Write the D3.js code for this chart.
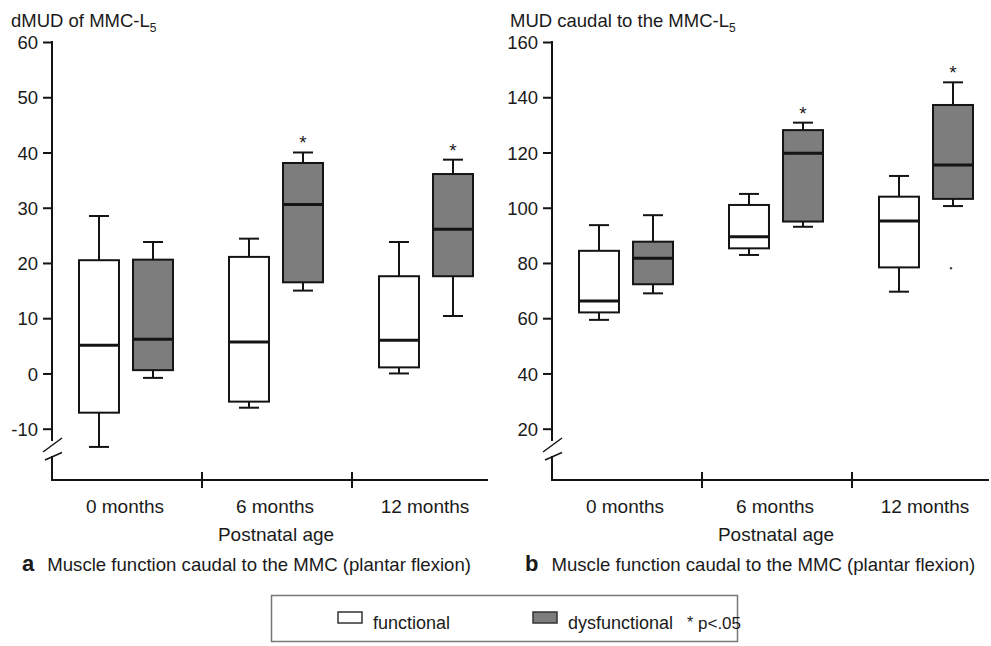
<!DOCTYPE html>
<html>
<head>
<meta charset="utf-8">
<script src="https://cdn.jsdelivr.net/npm/d3@7"></script>
<style>
  body { margin: 0; background: #fff; }
  svg { display: block; }
  text { font-family: "Liberation Sans", Arial, sans-serif; fill: #1a1a1a; }
</style>
</head>
<body>
<div id="chart"></div>
<script>
/***********************************************************
 * Data - each box: [min, q1, median, q3, max]
 * *********************************************************
 */
let categories = ["0 months", "6 months", "12 months"];
let groups = ["functional", "dysfunctional"];

// panel a: dMUD of MMC-L5
let functionalA = [[-13.3, -7.1, 5.1, 20.5, 28.5], [-6.2, -5.1, 5.7, 21.1, 24.4], [0.0, 1.1, 6.0, 17.6, 23.8]];
let dysfunctionalA = [[-0.8, 0.6, 6.2, 20.6, 23.8], [15.0, 16.5, 30.6, 38.1, 40.0], [10.4, 17.6, 26.1, 36.1, 38.7]];
let ticksA = [-10, 0, 10, 20, 30, 40, 50, 60];

// panel b: MUD caudal to the MMC-L5
let functionalB = [[59.4, 62.1, 66.2, 84.4, 93.7], [82.9, 85.3, 89.5, 101.0, 105.0], [69.6, 78.4, 95.2, 104.0, 111.5]];
let dysfunctionalB = [[69.0, 72.3, 81.7, 87.7, 97.3], [93.1, 95.0, 119.7, 128.1, 130.8], [100.6, 103.2, 115.5, 137.2, 145.4]];
let outliersB = [null, null, 78.1]; // dysfunctional group only
let ticksB = [20, 40, 60, 80, 100, 120, 140, 160];

let significant = [false, true, true]; // dysfunctional vs functional, p<.05

/***********************************************************
 * Set up svg
 * *********************************************************
 */
let svgWidth = 991;
let svgHeight = 646;
let boxFill = "#7d7d7d";
let ink = "#141414";

let svg = d3.select("#chart")
    .append("svg")
    .attr("width", svgWidth)
    .attr("height", svgHeight);

/***********************************************************
 * Draw one panel
 * *********************************************************
 */
function drawPanel(p) {
    let g = svg.append("g").attr("transform", `translate(${p.left}, 0)`);

    let y = d3.scaleLinear().domain(p.domain).range([428.7, 42]);
    let x = d3.scaleBand().domain(categories).range([0, 450]);
    let xInner = d3.scaleBand().domain(groups).range([-48, 46]).paddingInner(0.26);

    // title with subscript
    let title = g.append("text")
        .attr("x", p.titleX)
        .attr("y", 27)
        .style("font-size", "18.5px")
        .text(p.title);
    title.append("tspan")
        .attr("dy", 5)
        .style("font-size", "12px")
        .text("5");

    // y axis (split with a break near the bottom)
    let yAxis = g.append("g")
        .call(d3.axisLeft(y).tickValues(p.ticks).tickSize(9).tickPadding(5).tickFormat(d => String(d)));
    yAxis.select(".domain").remove();
    yAxis.selectAll("line").attr("stroke", ink).attr("stroke-width", 2);
    yAxis.selectAll("text").style("font-size", "18.5px").attr("fill", ink).attr("dy", "0.36em");

    g.append("line").attr("x1", 0).attr("x2", 0).attr("y1", 41).attr("y2", 441)
        .attr("stroke", ink).attr("stroke-width", 2);
    g.append("line").attr("x1", 0).attr("x2", 0).attr("y1", 456).attr("y2", 481)
        .attr("stroke", ink).attr("stroke-width", 2);
    [[-9, 452, 10, 438], [-7, 460, 10, 452.5]].forEach(s => {
        g.append("line").attr("x1", s[0]).attr("y1", s[1]).attr("x2", s[2]).attr("y2", s[3])
            .attr("stroke", ink).attr("stroke-width", 1.5);
    });

    // x axis
    g.append("line").attr("x1", 0).attr("x2", p.axisEnd).attr("y1", 480).attr("y2", 480)
        .attr("stroke", ink).attr("stroke-width", 2);
    categories.slice(1).forEach(c => {
        g.append("line").attr("x1", x(c)).attr("x2", x(c)).attr("y1", 472).attr("y2", 488)
            .attr("stroke", ink).attr("stroke-width", 2);
    });
    g.selectAll(".cat")
        .data(categories)
        .enter()
        .append("text")
        .attr("x", d => x(d) + x.bandwidth() / 2 - 2)
        .attr("y", 513)
        .attr("text-anchor", "middle")
        .style("font-size", "19px")
        .text(d => d);
    g.append("text")
        .attr("x", x(categories[1]) + x.bandwidth() / 2 - 1)
        .attr("y", 541)
        .attr("text-anchor", "middle")
        .style("font-size", "19px")
        .text("Postnatal age");

    // boxes
    let series = [
        { key: "functional", fill: "#fff", values: p.functional },
        { key: "dysfunctional", fill: boxFill, values: p.dysfunctional }
    ];
    series.forEach(s => {
        s.values.forEach((v, i) => {
            let x0 = x(categories[i]) + x.bandwidth() / 2 + xInner(s.key);
            let w = xInner.bandwidth();
            let cx = x0 + w / 2;
            let bg = g.append("g");
            // whiskers
            bg.append("line").attr("x1", cx).attr("x2", cx).attr("y1", y(v[4])).attr("y2", y(v[0]))
                .attr("stroke", ink).attr("stroke-width", 2);
            [v[0], v[4]].forEach(val => {
                bg.append("line").attr("x1", cx - 10).attr("x2", cx + 10).attr("y1", y(val)).attr("y2", y(val))
                    .attr("stroke", ink).attr("stroke-width", 2);
            });
            bg.append("rect")
                .attr("x", x0)
                .attr("y", y(v[3]))
                .attr("width", w)
                .attr("height", y(v[1]) - y(v[3]))
                .attr("fill", s.fill)
                .attr("stroke", ink)
                .attr("stroke-width", 2);
            bg.append("line").attr("x1", x0).attr("x2", x0 + w).attr("y1", y(v[2])).attr("y2", y(v[2]))
                .attr("stroke", ink).attr("stroke-width", 3);

            if (s.key === "dysfunctional" && significant[i]) {
                bg.append("text")
                    .attr("x", cx)
                    .attr("y", y(v[4]) - 3)
                    .attr("text-anchor", "middle")
                    .style("font-size", "19px")
                    .text("*");
            }
            if (s.key === "dysfunctional" && p.outliers && p.outliers[i] != null) {
                bg.append("circle").attr("cx", cx - 2).attr("cy", y(p.outliers[i])).attr("r", 1.2)
                    .attr("fill", "#444");
            }
        });
    });

    // caption
    let cap = svg.append("text")
        .attr("x", p.left + p.capX)
        .attr("y", 571)
        .style("font-size", "18.6px");
    cap.append("tspan").style("font-weight", "bold").style("font-size", "22px").text(p.letter);
    cap.append("tspan").attr("dx", 13).text("Muscle function caudal to the MMC (plantar flexion)");
}

drawPanel({
    left: 52, titleX: -41, title: "dMUD of MMC-L", domain: [-10, 60], ticks: ticksA,
    functional: functionalA, dysfunctional: dysfunctionalA, axisEnd: 436,
    letter: "a", capX: -30
});

drawPanel({
    left: 552, titleX: -42, title: "MUD caudal to the MMC-L", domain: [20, 160], ticks: ticksB,
    functional: functionalB, dysfunctional: dysfunctionalB, outliers: outliersB, axisEnd: 437,
    letter: "b", capX: -27
});

/***********************************************************
 * Legend
 * *********************************************************
 */
let legend = svg.append("g");
legend.append("rect")
    .attr("x", 271.5).attr("y", 595.5)
    .attr("width", 466).attr("height", 46)
    .attr("fill", "#fff").attr("stroke", "#777").attr("stroke-width", 1.5);

let legendItems = [
    { label: "functional", fill: "#fff", x: 338 },
    { label: "dysfunctional", fill: boxFill, x: 533 }
];
legendItems.forEach(d => {
    legend.append("rect")
        .attr("x", d.x).attr("y", 612)
        .attr("width", 24).attr("height", 11)
        .attr("fill", d.fill).attr("stroke", "#333").attr("stroke-width", 1.5);
    legend.append("text")
        .attr("x", d.x + 35).attr("y", 629)
        .style("font-size", "18px")
        .text(d.label);
});
legend.append("text").attr("x", 687).attr("y", 628).style("font-size", "16px").text("*");
legend.append("text").attr("x", 698).attr("y", 629).style("font-size", "17px").text("p<.05");
</script>
</body>
</html>
